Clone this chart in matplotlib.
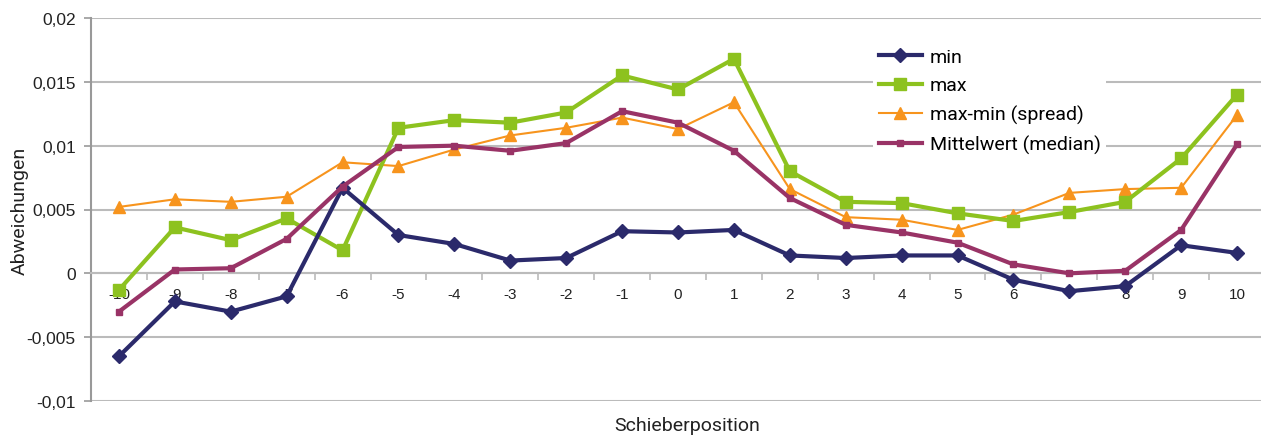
import matplotlib
matplotlib.use("Agg")
import matplotlib.pyplot as plt
from matplotlib.ticker import FuncFormatter, MultipleLocator, FixedLocator

positions = list(range(-10, 11))
tick_labels = [str(p) for p in positions]

min_vals = [-0.0065, -0.0022, -0.0030, -0.0018, 0.0067, 0.0030, 0.0023, 0.0010, 0.0012, 0.0033,
            0.0032, 0.0034, 0.0014, 0.0012, 0.0014, 0.0014, -0.0005, -0.0014, -0.0010, 0.0022, 0.0016]
max_vals = [-0.0013, 0.0036, 0.0026, 0.0043, 0.0018, 0.0114, 0.0120, 0.0118, 0.0126, 0.0155,
            0.0144, 0.0168, 0.0080, 0.0056, 0.0055, 0.0047, 0.0041, 0.0048, 0.0056, 0.0090, 0.0140]
spread_vals = [0.0052, 0.0058, 0.0056, 0.0060, 0.0087, 0.0084, 0.0097, 0.0108, 0.0114, 0.0122,
               0.0113, 0.0134, 0.0066, 0.0044, 0.0042, 0.0034, 0.0046, 0.0063, 0.0066, 0.0067, 0.0124]
median_vals = [-0.0030, 0.0003, 0.0004, 0.0027, 0.0068, 0.0099, 0.0100, 0.0096, 0.0102, 0.0127,
               0.0118, 0.0096, 0.0059, 0.0038, 0.0032, 0.0024, 0.0007, 0.0000, 0.0002, 0.0034, 0.0101]

c_min = "#2B2A6B"
c_max = "#8DC21F"
c_spread = "#F7941D"
c_med = "#993366"

narrow = ["Roboto", "Liberation Sans", "DejaVu Sans"]
plt.rcParams['font.family'] = ["Liberation Sans", "DejaVu Sans"]

fig = plt.figure(figsize=(12.61, 4.39), dpi=100)
ax = fig.add_axes([91/1261, 37/439, (1265-91)/1261, (402-19)/439])

x = list(range(len(positions)))
ax.plot(x, min_vals, color=c_min, lw=3, marker='D', ms=7, label="min", zorder=5)
ax.plot(x, max_vals, color=c_max, lw=3, marker='s', ms=8.5, label="max", zorder=4)
ax.plot(x, spread_vals, color=c_spread, lw=1.5, marker='^', ms=9, label="max-min (spread)", zorder=3)
ax.plot(x, median_vals, color=c_med, lw=3, marker='s', ms=5, label="Mittelwert (median)", zorder=6)

ax.set_xlim(-0.5, len(positions) - 0.5)
ax.set_ylim(-0.01, 0.02)
ax.yaxis.set_major_locator(MultipleLocator(0.005))

def fmt(v, pos):
    if abs(v) < 1e-12:
        return "0"
    s = ("%.3f" % v).rstrip("0")
    return s.replace(".", ",")
ax.yaxis.set_major_formatter(FuncFormatter(fmt))
ax.grid(axis='y', color="#BBBBBB", lw=1.5)
ax.set_axisbelow(True)

for s in ["top", "right"]:
    ax.spines[s].set_visible(False)
ax.spines["left"].set_color("#999999")
ax.spines["left"].set_linewidth(1.5)
ax.spines["bottom"].set_position(("data", 0))
ax.spines["bottom"].set_color("#BBBBBB")
ax.spines["bottom"].set_linewidth(1.5)

ax.set_xticks(x)
ax.set_xticklabels(tick_labels)
ax.xaxis.set_minor_locator(FixedLocator([i + 0.5 for i in range(-1, len(positions))]))
ax.tick_params(axis='x', which='major', length=0, pad=10, labelsize=11, colors="#222222")
ax.tick_params(axis='x', which='minor', length=5, color="#BBBBBB", width=1.2)
ax.tick_params(axis='y', length=5, color="#999999", width=1.2, labelsize=12.5, colors="#222222", pad=6)

ax.set_ylabel("Abweichungen", fontsize=14, family=narrow, color="#222222")
ax.yaxis.set_label_coords(-0.053, 0.5)
ax.set_xlabel("Schieberposition", fontsize=14, family=narrow, color="#222222")
ax.xaxis.set_label_coords(0.508, -0.04)

leg = ax.legend(loc="upper left", bbox_to_anchor=(0.658, 0.963), frameon=True, fancybox=False,
                edgecolor="none", facecolor="white", framealpha=1,
                prop={"family": narrow, "size": 14}, handlelength=2.2, labelspacing=0.55,
                borderpad=0.3, handletextpad=0.4)
leg.set_zorder(10)

fig.savefig("out.png", dpi=100)
